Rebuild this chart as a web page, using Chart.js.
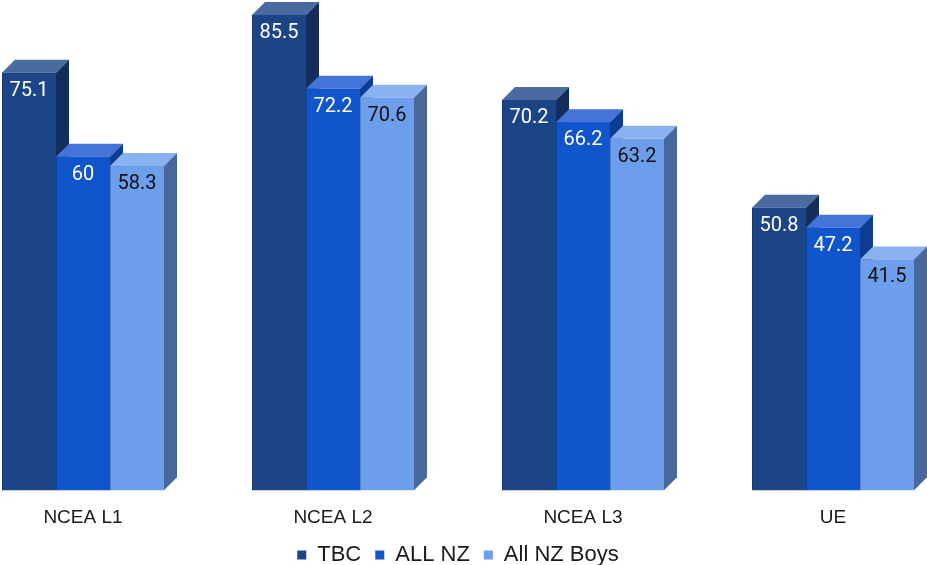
<!DOCTYPE html>
<html>
<head>
<meta charset="utf-8">
<script src="https://cdn.jsdelivr.net/npm/chart.js@4/dist/chart.umd.min.js"></script>
<style>
  html, body { margin: 0; padding: 0; background: #ffffff; }
  #frame { position: relative; width: 927px; height: 565px; overflow: hidden; background: #ffffff; }
  #chart { position: absolute; left: -42px; top: 0; }
</style>
</head>
<body>
<div id="frame">
  <canvas id="chart" width="1000" height="576"></canvas>
</div>
<script>
// Pass rates by qualification
const categories = ['NCEA L1', 'NCEA L2', 'NCEA L3', 'UE'];
const seriesNames = ['TBC', 'ALL NZ', 'All NZ Boys'];
const tbcValues = [75.1, 85.5, 70.2, 50.8];
const allNzValues = [60, 72.2, 66.2, 47.2];
const allNzBoysValues = [58.3, 70.6, 63.2, 41.5];

// Face colours for each series: front, top, side, label
const palette = [
  { front: '#1c4587', top: '#4a6ba0', side: '#132e5c', label: '#ffffff' },
  { front: '#1155cc', top: '#4474d8', side: '#0c3d92', label: '#ffffff' },
  { front: '#6d9eeb', top: '#8ab2f0', side: '#48689c', label: '#111111' }
];

const DEPTH = 13;

// Draws every bar as a block with a top and right-hand face, then its value
const blockBars = {
  id: 'blockBars',
  afterDatasetsDraw(chart) {
    const ctx = chart.ctx;
    ctx.save();
    chart.data.datasets.forEach((ds, di) => {
      const meta = chart.getDatasetMeta(di);
      const c = palette[di];
      meta.data.forEach((bar) => {
        const p = bar.getProps(['x', 'y', 'base', 'width'], true);
        const L = p.x - p.width / 2;
        const R = p.x + p.width / 2;
        const T = p.y;
        const B = p.base;
        // front
        ctx.fillStyle = c.front;
        ctx.fillRect(L, T, R - L, B - T);
        // top
        ctx.beginPath();
        ctx.moveTo(L, T);
        ctx.lineTo(R, T);
        ctx.lineTo(R + DEPTH, T - DEPTH);
        ctx.lineTo(L + DEPTH, T - DEPTH);
        ctx.closePath();
        ctx.fillStyle = c.top;
        ctx.fill();
        // side
        ctx.beginPath();
        ctx.moveTo(R, T);
        ctx.lineTo(R + DEPTH, T - DEPTH);
        ctx.lineTo(R + DEPTH, B - DEPTH);
        ctx.lineTo(R, B);
        ctx.closePath();
        ctx.fillStyle = c.side;
        ctx.fill();
        // thin edge on the left of the front face
        ctx.fillStyle = 'rgba(0,0,0,0.18)';
        ctx.fillRect(L, T, 1, B - T);
      });
    });
    // value labels
    ctx.font = '20px Roboto, "Liberation Sans", sans-serif';
    ctx.textAlign = 'center';
    ctx.textBaseline = 'middle';
    chart.data.datasets.forEach((ds, di) => {
      const meta = chart.getDatasetMeta(di);
      ctx.fillStyle = palette[di].label;
      meta.data.forEach((bar, i) => {
        const p = bar.getProps(['x', 'y'], true);
        ctx.fillText(String(ds.data[i]), p.x, p.y + 18);
      });
    });
    ctx.restore();
  }
};

const seriesValues = [tbcValues, allNzValues, allNzBoysValues];

new Chart(document.getElementById('chart'), {
  type: 'bar',
  data: {
    labels: categories,
    datasets: seriesNames.map((name, i) => ({
      label: name,
      data: seriesValues[i],
      backgroundColor: palette[i].front,
      borderWidth: 0,
      barPercentage: 1,
      categoryPercentage: 0.648
    }))
  },
  options: {
    responsive: false,
    animation: false,
    devicePixelRatio: 1,
    layout: { padding: { top: 1, left: 0, right: 0, bottom: 0 } },
    scales: {
      x: {
        grid: { display: false, tickLength: 16 },
        border: { display: false },
        ticks: {
          color: '#1a1a1a',
          padding: 0.5,
          font: { family: '"Liberation Sans", Arial, sans-serif', size: 19 }
        }
      },
      y: {
        display: false,
        min: 0,
        max: 88
      }
    },
    plugins: {
      legend: {
        position: 'bottom',
        labels: {
          boxWidth: 9,
          boxHeight: 9,
          padding: 14,
          color: '#1a1a1a',
          font: { family: '"Liberation Sans", Arial, sans-serif', size: 22 }
        }
      },
      tooltip: { enabled: false }
    }
  },
  plugins: [blockBars]
});
</script>
</body>
</html>
